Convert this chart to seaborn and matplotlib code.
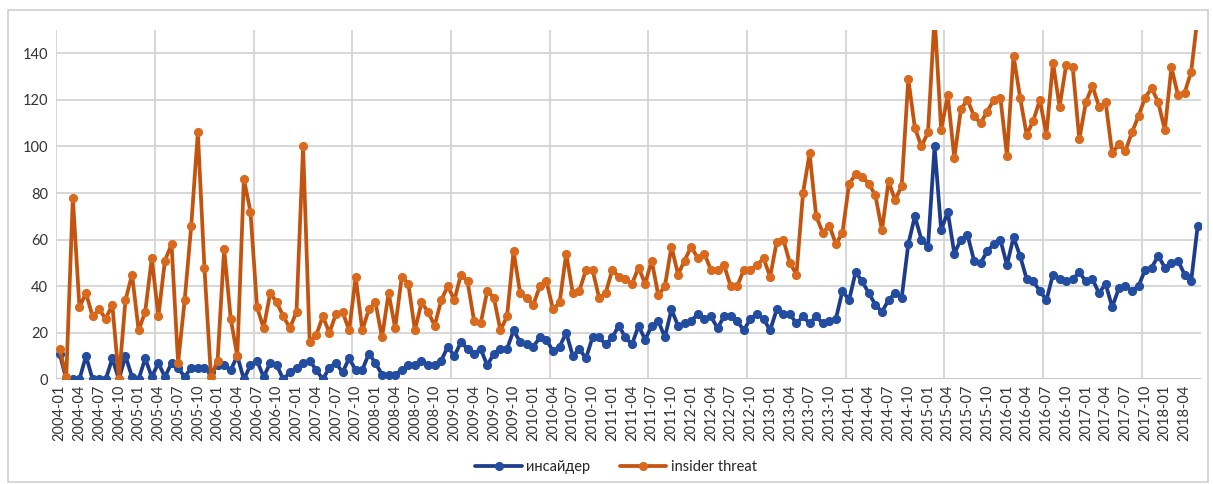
import numpy as np
import pandas as pd
import matplotlib
matplotlib.use("Agg")
import matplotlib.pyplot as plt
from matplotlib.ticker import FixedLocator
from matplotlib.patches import Rectangle
import seaborn as sns

months = pd.period_range("2004-01", "2018-06", freq="M").strftime("%Y-%m").tolist()

insider_ru = [11, 0, 0, 0, 10, 0, 0, 0, 9, 0, 10, 1, 0, 9, 1, 7, 1, 7, 5, 1, 5, 5,
              5, 3, 6, 6, 4, 10, 0, 6, 8, 1, 7, 6, 0, 3, 5, 7, 8, 4, 0, 5, 7, 3, 9,
              4, 4, 11, 7, 2, 2, 2, 4, 6, 6, 8, 6, 6, 8, 14, 10, 16, 13, 11, 13, 6, 11,
              13, 13, 21, 16, 15, 14, 18, 17, 12, 14, 20, 10, 13, 9, 18, 18, 15, 18, 23, 18, 15, 23, 17,
              23, 25, 18, 30, 23, 24, 25, 28, 26, 27, 22, 27, 27, 25, 21, 26, 28, 26, 21, 30, 28, 28, 24,
              27, 24, 27, 24, 25, 26, 38, 34, 46, 42, 37, 32, 29, 34, 37, 35, 58, 70, 60, 57, 100, 64, 72,
              54, 60, 62, 51, 50, 55, 58, 60, 49, 61, 53, 43, 42, 38, 34, 45, 43, 42, 43, 46, 42, 43, 37,
              41, 31, 39, 40, 38, 40, 47, 48, 53, 48, 50, 51, 45, 42, 66]

insider_threat = [13, 1, 78, 31, 37, 27, 30, 26, 32, 0, 34, 45, 21, 29, 52, 27, 51, 58, 7, 34, 66, 106,
                  48, 1, 8, 56, 26, 10, 86, 72, 31, 22, 37, 33, 27, 22, 29, 100, 16, 19, 27, 20, 28, 29, 21,
                  44, 21, 30, 33, 18, 37, 22, 44, 41, 21, 33, 29, 23, 34, 40, 34, 45, 42, 25, 24, 38, 35,
                  21, 27, 55, 37, 35, 32, 40, 42, 30, 33, 54, 37, 38, 47, 47, 35, 37, 47, 44, 43, 41, 48, 41,
                  51, 36, 40, 57, 45, 51, 57, 52, 54, 47, 47, 49, 40, 40, 47, 47, 49, 52, 44, 59, 60, 50, 45,
                  80, 97, 70, 63, 66, 58, 63, 84, 88, 87, 84, 79, 64, 85, 77, 83, 129, 108, 100, 106, 156, 107, 122,
                  95, 116, 120, 113, 110, 115, 120, 121, 96, 139, 121, 105, 111, 120, 105, 136, 117, 135, 134, 103, 119, 126, 117,
                  119, 97, 101, 98, 106, 113, 121, 125, 119, 107, 134, 122, 123, 132, 156]

series_names = ["инсайдер", "insider threat"]

df = pd.DataFrame({
    "idx": list(range(len(months))) * 2,
    "month": months * 2,
    "value": insider_ru + insider_threat,
    "series": [series_names[0]] * len(months) + [series_names[1]] * len(months),
})

sns.set_theme(style="white")
plt.rcParams["font.family"] = ["Lato", "DejaVu Sans"]

W, H = 1213, 484
fig = plt.figure(figsize=(W / 100, H / 100), dpi=100)
ax = fig.add_axes([56.4 / W, 1 - 379.3 / H, (1201 - 56.4) / W, (379.3 - 30) / H])

line_colors = {"инсайдер": "#1E3C8C", "insider threat": "#C2540F"}
marker_colors = {"инсайдер": "#234DA0", "insider threat": "#D96A1D"}

for name in series_names:
    sub = df[df["series"] == name]
    sns.lineplot(data=sub, x="idx", y="value", ax=ax, color=line_colors[name],
                 linewidth=2.7, marker="o", markersize=5.8,
                 markerfacecolor=marker_colors[name], markeredgecolor=marker_colors[name],
                 label=name, legend=False, zorder=3 if name == "insider threat" else 2)

ax.set_xlim(-0.5, len(months) - 0.5)
ax.set_ylim(0, 150)
ax.set_yticks(np.arange(0, 141, 20))
tick_pos = list(range(0, len(months), 3))
ax.set_xticks(tick_pos)
ax.set_xticklabels([months[i] for i in tick_pos], rotation=90, fontsize=10.5, color="#333333")
ax.xaxis.set_minor_locator(FixedLocator(np.arange(-0.5, len(months), 15)))
ax.tick_params(axis="both", which="both", length=0)
ax.tick_params(axis="x", pad=4)
ax.tick_params(axis="y", pad=6, labelsize=10.5, labelcolor="#333333")
ax.set_xlabel("")
ax.set_ylabel("")
ax.grid(False)
ax.yaxis.grid(True, color="#D4D4D4", linewidth=1.3)
ax.xaxis.grid(True, which="minor", color="#D4D4D4", linewidth=1.3)
for s in ax.spines.values():
    s.set_visible(False)
ax.axhline(0, color="#C8C8C8", linewidth=1.5, zorder=1)

handles, labels = ax.get_legend_handles_labels()
leg = fig.legend(handles, labels, loc="center", bbox_to_anchor=(616 / W, 1 - 467 / H),
                 ncol=2, frameon=False, fontsize=10.5, handlelength=3.2,
                 columnspacing=2.0, handletextpad=0.3)

fig.patches.append(Rectangle((8 / W, 2 / H), (1208 - 8) / W, (474 - 2 + 0) / H, transform=fig.transFigure,
                             fill=False, edgecolor="#D0D0D0", linewidth=1.2))

fig.savefig("out.png", dpi=100, facecolor="white")
